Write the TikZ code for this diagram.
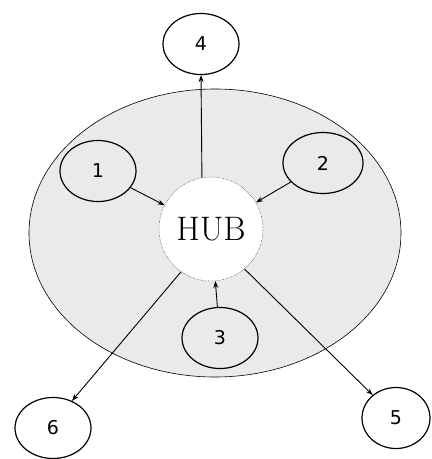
\documentclass[tikz,border=0pt]{standalone}
\usepackage{fontspec}
\usetikzlibrary{arrows.meta,shapes.geometric}
\newfontfamily\numfont{DejaVu Sans}
\definecolor{ringbg}{HTML}{EAEAEA}

\begin{document}
\begin{tikzpicture}[x=1pt, y=-1pt,
    site/.style={draw, line width=1.2pt, ellipse, inner sep=0pt, minimum width=76pt, minimum height=61pt,
      font=\numfont\fontsize{19}{19}\selectfont},
    link/.style={-{Stealth[length=7pt, width=5pt]}, line width=0.9pt}]
  \useasboundingbox (0,0) rectangle (432,459);
  % shaded network area
  \node[draw, semithick, ellipse, fill=ringbg, minimum width=372pt, minimum height=288pt] (area) at (215,233) {};
  \node[circle, draw, densely dotted, fill=white, minimum size=104pt, inner sep=0pt,
    font=\fontsize{34}{34}\selectfont] (hub) at (211,229) {HUB};
  % stations
  \node[site] (s1) at (98,171) {1};
  \node[site, minimum width=80pt] (s2) at (323,163) {2};
  \node[site] (s3) at (220,338) {3};
  \node[site] (s4) at (201,44) {4};
  \node[site, minimum width=68pt] (s5) at (396,418) {5};
  \node[site] (s6) at (53,428) {6};
  \draw[link] (s1) -- (hub);
  \draw[link] (s2) -- (hub);
  \draw[link] (s3) -- (hub);
  \draw[link] (hub.100) -- (s4.south);
  \draw[link] (hub.235) -- (s6.55);
  \draw[link] (hub.310) -- (s5);
\end{tikzpicture}
\end{document}
